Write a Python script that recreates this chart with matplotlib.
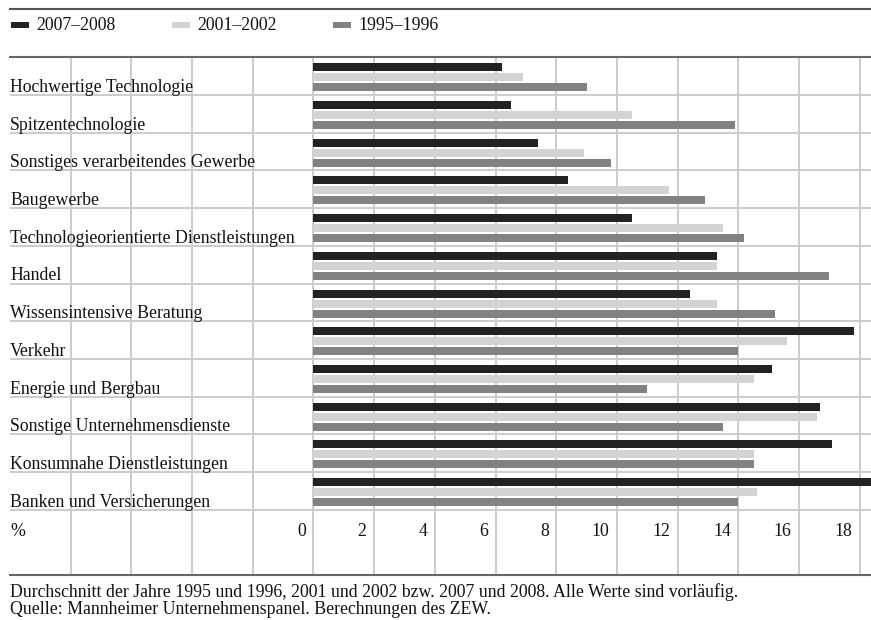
import numpy as np
import matplotlib
matplotlib.use("Agg")
import matplotlib.pyplot as plt
from matplotlib.patches import Rectangle
from matplotlib.lines import Line2D

# Daten (Prozent)
kategorien = ["Hochwertige Technologie", "Spitzentechnologie",
              "Sonstiges verarbeitendes Gewerbe", "Baugewerbe",
              "Technologieorientierte Dienstleistungen", "Handel",
              "Wissensintensive Beratung", "Verkehr", "Energie und Bergbau",
              "Sonstige Unternehmensdienste", "Konsumnahe Dienstleistungen",
              "Banken und Versicherungen"]
w2007 = [6.2, 6.5, 7.4, 8.4, 10.5, 13.3, 12.4, 17.8, 15.1, 16.7, 17.1, 18.6]
w2001 = [6.9, 10.5, 8.9, 11.7, 13.5, 13.3, 13.3, 15.6, 14.5, 16.6, 14.5, 14.6]
w1995 = [9.0, 13.9, 9.8, 12.9, 14.2, 17.0, 15.2, 14.0, 11.0, 13.5, 14.5, 14.0]
serien = ["2007–2008", "2001–2002", "1995–1996"]
farben = ["#222222", "#d3d3d3", "#828282"]
ticks = [0, 2, 4, 6, 8, 10, 12, 14, 16, 18]
fussnote = ["Durchschnitt der Jahre 1995 und 1996, 2001 und 2002 bzw. 2007 und 2008. Alle Werte sind vorläufig.",
            "Quelle: Mannheimer Unternehmenspanel. Berechnungen des ZEW."]

plt.rcParams['font.family'] = ['Liberation Serif', 'DejaVu Serif']
FS = 12.8
W, H = 871, 620
fig = plt.figure(figsize=(W / 100, H / 100), dpi=100)

def fx(px):
    return px / W

def fy(py):
    return 1 - py / H

# Achse: von x=10 bis 871 px, y=57 bis 575 px
ax = fig.add_axes([fx(10), fy(575), fx(861), (575 - 57.3) / H])
n = len(kategorien)
ymax = n + (575 - 509.7) / 37.7
ax.set_xlim(-10, 18.37)
ax.set_ylim(ymax, 0)

gridc = "#cccccc"
for gx in range(-8, 19, 2):
    ax.axvline(gx, color=gridc, lw=1.4, zorder=0)
for gy in range(1, n + 1):
    ax.axhline(gy, color=gridc, lw=1.4, zorder=0)

y = np.arange(n)
offs = [0.267, 0.532, 0.797]
for werte, off, c in zip([w2007, w2001, w1995], offs, farben):
    ax.barh(y + off, werte, height=0.212, color=c, zorder=2, linewidth=0)

for i, k in enumerate(kategorien):
    ax.text(-10, i + 0.8, k, ha='left', va='center', fontsize=FS, color="#111111")

ty = n + (531 - 509.7) / 37.7
for t in ticks:
    ax.text(t - 0.25, ty, str(t), ha='right', va='center', fontsize=FS, color="#111111")
ax.text(-10, ty, "%", ha='left', va='center', fontsize=FS, color="#111111")

ax.set_xticks([])
ax.set_yticks([])
for s in ["left", "right"]:
    ax.spines[s].set_visible(False)
for s in ["top", "bottom"]:
    ax.spines[s].set_color("#666666")
    ax.spines[s].set_linewidth(1.5)

# obere Linie und Legende
fig.add_artist(Line2D([fx(10), 1], [fy(9.3), fy(9.3)], color="#555555", lw=1.5))
for lx, s, c in zip([11, 172, 333], serien, farben):
    fig.add_artist(Rectangle((fx(lx), fy(28)), fx(18), 6 / H, color=c, lw=0))
    fig.text(fx(lx + 25), fy(26), s, ha='left', va='center', fontsize=FS, color="#111111")

fig.text(fx(10), fy(592), fussnote[0], ha='left', va='center', fontsize=FS, color="#111111")
fig.text(fx(10), fy(609.5), fussnote[1], ha='left', va='center', fontsize=FS, color="#111111")

fig.savefig("out.png", dpi=100)
